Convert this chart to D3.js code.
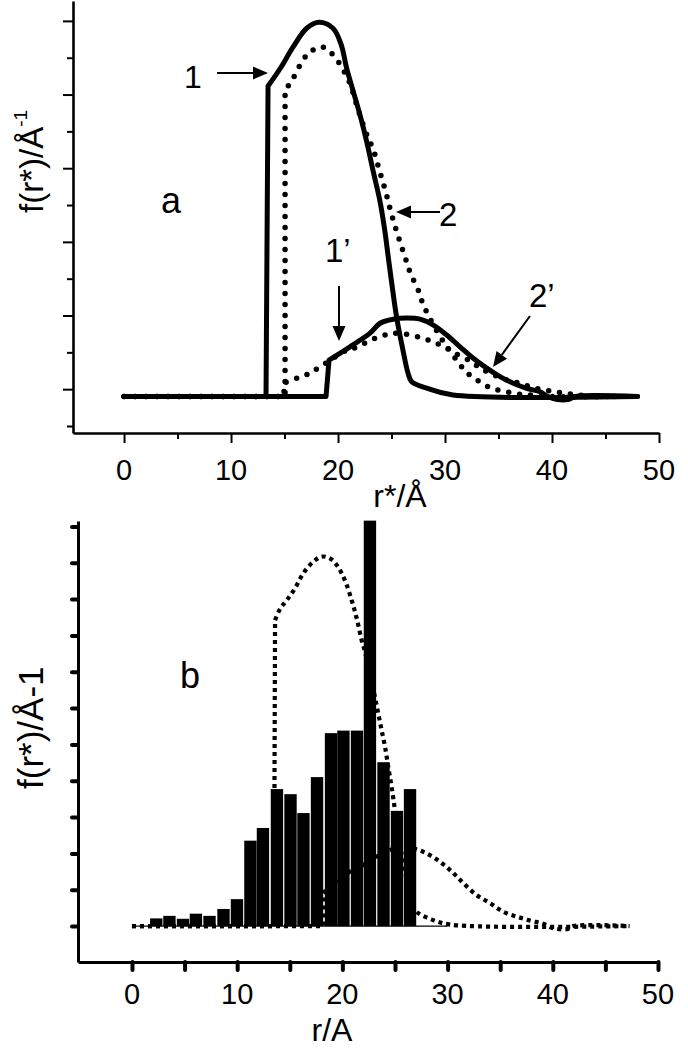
<!DOCTYPE html>
<html><head><meta charset="utf-8">
<script src="https://cdn.jsdelivr.net/npm/d3@7/dist/d3.min.js"></script>
<style>
html,body{margin:0;padding:0;background:#fff;}
svg{display:block;}
text{font-family:"Liberation Sans",Arial,sans-serif;fill:#000;}
</style></head>
<body>
<svg id="chart" width="688" height="1050"></svg>
<script>
// ---------- DATA ----------
// Panel a: curves (r* in Å, f relative to baseline, arbitrary units)
const curve1X  = [0, 12.9, 13.27, 13.46, 14.58, 15.82, 17.07, 18.22, 19.53, 20.28, 20.81, 21.43, 22.06, 22.68, 23.30, 23.93, 24.39, 24.67, 25.02, 25.49, 26.07, 26.54, 26.89, 28.29, 30.75, 48.0];
const curve1Y  = [0, 0, 0, 8.43, 8.90, 9.50, 10.0, 10.16, 10.0, 9.57, 8.91, 8.28, 7.64, 6.92, 6.10, 5.29, 4.47, 3.84, 3.08, 2.13, 1.26, 0.64, 0.40, 0.23, 0.04, 0];
const curve1pX = [0, 18.5, 18.88, 19.16, 21.12, 22.99, 23.93, 25.17, 26.5, 27.66, 28.91, 30.16, 31.40, 32.64, 33.9, 35.14, 36.38, 37.63, 38.88, 39.6, 40.5, 41.5, 42.2, 48.0];
const curve1pY = [0, 0, 0, 0.99, 1.35, 1.72, 1.99, 2.10, 2.13, 2.10, 1.94, 1.67, 1.35, 1.04, 0.77, 0.54, 0.36, 0.22, 0.13, 0.0, -0.08, -0.08, 0, 0];
const curve2X  = [0, 14.7, 15.05, 15.05, 15.70, 16.73, 17.38, 18.41, 19.25, 20.03, 20.65, 21.12, 21.75, 22.36, 22.83, 23.30, 23.86, 24.49, 25.02, 25.64, 26.36, 26.73, 27.6, 27.92, 28.38, 29.37, 30.31, 31.24, 31.96, 32.8, 33.74, 34.67, 35.77, 36.85, 37.94, 40.0, 46.0];
const curve2Y  = [0, 0, 0, 8.32, 8.59, 9.14, 9.35, 9.50, 9.36, 9.09, 8.78, 8.50, 7.91, 7.37, 7.01, 6.70, 6.15, 5.52, 4.93, 4.34, 3.70, 3.38, 2.81, 2.52, 2.24, 1.71, 1.30, 0.93, 0.67, 0.49, 0.31, 0.20, 0.13, 0.07, 0.04, 0, 0];
const curve2pX = [0, 14.6, 14.95, 14.95, 16.17, 17.2, 18.13, 20.81, 21.87, 22.99, 24.08, 25.02, 25.95, 27.20, 28.29, 29.22, 30.0, 30.63, 32.18, 33.11, 34.21, 35.77, 37.01, 38.10, 39.19, 40.28, 41.21, 42.62, 46.0];
const curve2pY = [0, 0, 0, 0.37, 0.50, 0.61, 0.77, 1.26, 1.35, 1.53, 1.64, 1.71, 1.71, 1.64, 1.55, 1.44, 1.35, 1.22, 0.99, 0.81, 0.63, 0.45, 0.36, 0.25, 0.18, 0.13, 0.09, 0.04, 0];

// Panel b: histogram (r in Å) and the two model curves
const barX = [2.31, 3.56, 4.85, 6.08, 7.37, 8.70, 9.98, 11.26, 12.45, 13.78, 15.07, 16.30, 17.59, 18.92, 20.10, 21.39, 22.62, 23.91, 25.19, 26.43];
const barV = [0.21, 0.28, 0.20, 0.34, 0.28, 0.47, 0.74, 2.35, 2.70, 3.77, 3.63, 3.11, 4.10, 5.31, 5.38, 5.38, 11.16, 4.51, 3.17, 3.77];
const binWidth = 1.27;
const b1X  = [0, 13.1, 13.5, 13.6, 14.1, 14.72, 15.5, 16.29, 17.24, 18.03, 18.82, 19.46, 19.93, 20.41, 20.88, 21.2, 21.51, 21.83, 22.15, 23.09, 23.41, 23.73, 24.05, 24.36, 24.68, 25.5, 26.1, 26.6, 27.06, 28.3, 30.23, 47.3];
const b1Y  = [0, 0, 0, 8.42, 8.74, 8.97, 9.30, 9.71, 10.03, 10.17, 10.12, 9.94, 9.71, 9.39, 8.97, 8.65, 8.29, 7.87, 7.55, 6.31, 5.85, 5.39, 4.94, 4.38, 3.83, 2.2, 1.3, 0.6, 0.39, 0.2, 0.04, 0];
const b1pX = [0, 17.8, 18.19, 18.19, 19.14, 20.4, 21.67, 23.26, 24.52, 25.79, 26.74, 28.0, 29.28, 30.39, 31.5, 32.77, 34.03, 35.3, 36.57, 37.83, 39.1, 40.05, 41.3, 41.95, 47.3];
const b1pY = [0, 0, 0, 0.91, 1.18, 1.45, 1.63, 1.91, 2.09, 2.18, 2.14, 2.0, 1.77, 1.50, 1.18, 0.85, 0.63, 0.39, 0.26, 0.15, 0.06, -0.06, -0.09, 0, 0];
const baseLineB = [0, 30];
// index of the point at the top of each curve's vertical jump
const jumpIndex = 3;

// ticks
const xMajor = [0, 10, 20, 30, 40, 50];
const xMinor = [5, 15, 25, 35, 45];
const xTickLabels = ["0", "10", "20", "30", "40", "50"];
const yLongA  = [0.2, 2.2, 4.2, 6.2, 8.2, 10.2];
const yShortA = [-0.8, 1.2, 3.2, 5.2, 7.2, 9.2];
const yTicksB = [0, 1, 2, 3, 4, 5, 6, 7, 8, 9, 10, 11];
const xTicksB = [0, 5, 10, 15, 20, 25, 30, 35, 40, 45, 50];

// ---------- DRAW ----------
const svg = d3.select("#chart");

const xT = d3.scaleLinear().domain([-4.77, 50]).range([73, 659]);
const yT = d3.scaleLinear().domain([-0.99, 10.74]).range([433, 1]);
const xB = d3.scaleLinear().domain([-5.13, 50]).range([78, 658]);
const yB = d3.scaleLinear().domain([-0.99, 11.15]).range([962, 521]);

const zip = (xs, ys) => xs.map((x, i) => [x, ys[i]]);
const smooth = d3.curveCatmullRom.alpha(0.5);

// draws a curve: straight segments up to the jump, smooth afterwards
function drawCurve(g, xs, ys, xs_, ys_, style) {
  const pts = zip(xs, ys);
  const lin = d3.line().x(d => xs_(d[0])).y(d => ys_(d[1]));
  const smo = d3.line().x(d => xs_(d[0])).y(d => ys_(d[1])).curve(smooth);
  const d = lin(pts.slice(0, jumpIndex + 1)) + smo(pts.slice(jumpIndex)).replace(/^M[^LC]*/, "");
  g.append("path").attr("d", d).call(style);
}

// ===== Panel a =====
const gA = svg.append("g");

gA.append("g").attr("transform", `translate(0,${yT.range()[0]})`)
  .call(d3.axisBottom(xT).tickValues(xMajor).tickSize(10).tickSizeOuter(0).tickFormat(""));
const axA_x2 = gA.append("g").attr("transform", `translate(0,${yT.range()[0]})`)
  .call(d3.axisBottom(xT).tickValues(xMinor).tickSize(6).tickSizeOuter(0).tickFormat(""));
axA_x2.select(".domain").remove();
gA.append("g").attr("transform", `translate(${xT.range()[0]},0)`)
  .call(d3.axisLeft(yT).tickValues(yLongA).tickSize(10).tickSizeOuter(0).tickFormat(""));
const axA_y2 = gA.append("g").attr("transform", `translate(${xT.range()[0]},0)`)
  .call(d3.axisLeft(yT).tickValues(yShortA).tickSize(6).tickSizeOuter(0).tickFormat(""));
axA_y2.select(".domain").remove();
gA.selectAll(".domain").attr("stroke", "#000").attr("stroke-width", 2.6);
gA.selectAll(".tick line").attr("stroke", "#000").attr("stroke-width", 2);

gA.selectAll("text.xl").data(xMajor).join("text").attr("class", "xl")
  .attr("x", d => xT(d)).attr("y", 480).attr("text-anchor", "middle")
  .style("font-size", "29px").text((d, i) => xTickLabels[i]);

const solidStyle = sel => sel.attr("fill", "none").attr("stroke", "#000").attr("stroke-width", 5)
  .attr("stroke-linejoin", "round").attr("stroke-linecap", "round");
const dotStyle = sel => sel.attr("fill", "none").attr("stroke", "#000").attr("stroke-width", 5.5)
  .attr("stroke-dasharray", "0,11").attr("stroke-linecap", "round");

drawCurve(gA, curve2X, curve2Y, xT, yT, dotStyle);
drawCurve(gA, curve2pX, curve2pY, xT, yT, dotStyle);
drawCurve(gA, curve1X, curve1Y, xT, yT, solidStyle);
drawCurve(gA, curve1pX, curve1pY, xT, yT, solidStyle);

gA.append("text").attr("x", 400).attr("y", 507).attr("text-anchor", "middle")
  .style("font-size", "32px").text("r*/Å");
const yta = gA.append("text").attr("transform", "translate(43,213) rotate(-90)")
  .attr("text-anchor", "start").style("font-size", "33px");
yta.append("tspan").text("f(r*)/Å");
yta.append("tspan").attr("dy", -16).style("font-size", "19px").text("-1");

function arrow(g, x1, y1, x2, y2) {
  const ang = Math.atan2(y2 - y1, x2 - x1), L = 15, Wd = 6.5;
  const bx = x2 - L * Math.cos(ang), by = y2 - L * Math.sin(ang);
  g.append("line").attr("x1", x1).attr("y1", y1).attr("x2", bx).attr("y2", by)
    .attr("stroke", "#000").attr("stroke-width", 2);
  const px = -Math.sin(ang) * Wd, py = Math.cos(ang) * Wd;
  g.append("path").attr("d", `M${x2},${y2}L${bx + px},${by + py}L${bx - px},${by - py}Z`).attr("fill", "#000");
}
const lab = (g, x, y, t, s) => g.append("text").attr("x", x).attr("y", y).style("font-size", s + "px").text(t);
lab(gA, 184, 88, "1", 32);
arrow(gA, 217, 73, 268, 73);
lab(gA, 439, 226, "2", 33);
arrow(gA, 440, 212, 396, 212);
lab(gA, 325, 262, "1’", 33);
arrow(gA, 339, 286, 339, 341);
lab(gA, 529, 307, "2’", 33);
arrow(gA, 530, 316, 493, 367);
lab(gA, 161, 213, "a", 36);

// ===== Panel b =====
const gB = svg.append("g");

gB.selectAll("rect.bar").data(barX).join("rect").attr("class", "bar")
  .attr("x", d => xB(d - binWidth / 2) + 0.5)
  .attr("width", xB(binWidth) - xB(0) - 1)
  .attr("y", (d, i) => yB(barV[i]))
  .attr("height", (d, i) => yB(0) - yB(barV[i]))
  .attr("fill", "#000");

gB.append("line").attr("x1", xB(baseLineB[0])).attr("x2", xB(baseLineB[1]))
  .attr("y1", yB(0)).attr("y2", yB(0)).attr("stroke", "#000").attr("stroke-width", 1.3);

const sqDot = sel => sel.attr("fill", "none").attr("stroke", "#000").attr("stroke-width", 4.2)
  .attr("stroke-dasharray", "4,4").attr("stroke-linejoin", "miter");
drawCurve(gB, b1X, b1Y, xB, yB, sqDot);
drawCurve(gB, b1pX, b1pY, xB, yB, sqDot);

gB.append("g").attr("transform", `translate(0,${yB.range()[0]})`)
  .call(d3.axisBottom(xB).tickValues(xTicksB).tickSize(8).tickSizeOuter(0).tickFormat(""));
gB.append("g").attr("transform", `translate(${xB.range()[0]},0)`)
  .call(d3.axisLeft(yB).tickValues(yTicksB).tickSize(6).tickSizeOuter(0).tickFormat(""));
gB.selectAll(".domain").attr("stroke", "#000").attr("stroke-width", 3);
gB.selectAll(".tick line").attr("stroke", "#000").attr("stroke-width", 4).attr("stroke-linecap", "round");

gB.selectAll("text.xl").data(xMajor).join("text").attr("class", "xl")
  .attr("x", d => xB(d)).attr("y", 1004).attr("text-anchor", "middle")
  .style("font-size", "29px").text((d, i) => xTickLabels[i]);

gB.append("text").attr("x", 332).attr("y", 1041).attr("text-anchor", "middle")
  .style("font-size", "32px").text("r/A");
gB.append("text").attr("transform", "translate(43,789) rotate(-90)")
  .attr("text-anchor", "start").style("font-size", "35px").text("f(r*)/Å-1");
lab(gB, 180, 688, "b", 36);
</script>
</body></html>
